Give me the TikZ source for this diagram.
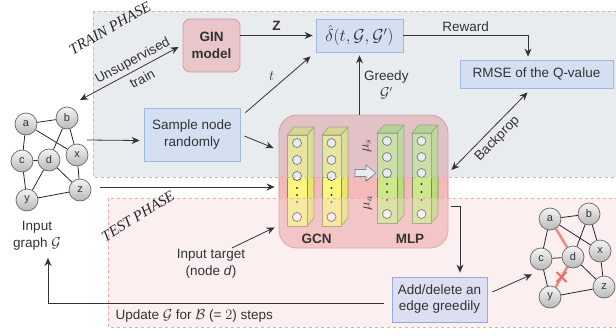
\documentclass[tikz,border=0pt]{standalone}
\usepackage{fontspec}
\setmainfont{Liberation Sans}
\newfontfamily\phasefont{Liberation Serif}
\usetikzlibrary{arrows.meta,calc}

\definecolor{txt}{HTML}{333333}
\definecolor{trainov}{RGB}{200,208,215}
\definecolor{testov}{RGB}{245,215,215}
\definecolor{trainbd}{HTML}{BBBBBB}
\definecolor{testbd}{HTML}{F0AAAA}
\definecolor{boxfill}{HTML}{F4B9BB}
\definecolor{boxbd}{HTML}{D8868B}
\definecolor{ginfill}{HTML}{E8C6C9}
\definecolor{ginbd}{HTML}{D69AA0}
\definecolor{bluefill}{HTML}{D4E0F1}
\definecolor{bluebd}{HTML}{9DB8E2}
\definecolor{addfill}{HTML}{DCDFF2}
\definecolor{addbd}{HTML}{97A8DA}
\definecolor{gcnf}{HTML}{FAF67E}
\definecolor{gcnr}{HTML}{E9E56E}
\definecolor{gcnt}{HTML}{DFDB68}
\definecolor{gcnb}{HTML}{8A8A5C}
\definecolor{mlpf}{HTML}{CCE88A}
\definecolor{mlpr}{HTML}{BADB78}
\definecolor{mlpt}{HTML}{B0D070}
\definecolor{mlpb}{HTML}{74905A}
\definecolor{redge}{HTML}{F08A8A}
\definecolor{redx}{HTML}{F06A6A}

\newcommand{\myfs}{\fontsize{13.5}{17}\selectfont}
\newcommand{\mylayer}[8]{%
  \filldraw[fill=#7,draw=#8,line width=0.7pt,line join=round] (#1,#2) -- ++(7,-8) -- ++(#3,0) -- ++(-7,8) -- cycle;
  \filldraw[fill=#6,draw=#8,line width=0.7pt,line join=round] (#1+#3,#2) -- ++(7,-8) -- ++(0,#4) -- ++(-7,8) -- cycle;
  \filldraw[fill=#5,draw=#8,line width=0.7pt,line join=round] (#1,#2) rectangle ++(#3,#4);
}

\tikzset{
  arr/.style={draw=txt, line width=0.8pt, -{Stealth[length=8pt,width=7pt]}},
  darr/.style={draw=txt, line width=0.8pt, {Stealth[length=8pt,width=7pt]}-{Stealth[length=8pt,width=7pt]}},
  bluebox/.style={draw=bluebd, fill=bluefill, line width=0.8pt, align=center, inner sep=0pt, text=txt},
  addbox/.style={draw=addbd, fill=addfill, line width=0.8pt, align=center, inner sep=0pt, text=txt},
  ginbox/.style={draw=ginbd, fill=ginfill, line width=0.8pt, rounded corners=7pt, align=center, inner sep=0pt, font=\bfseries\myfs, text=txt},
  gnode/.style={circle, minimum size=22pt, inner sep=0pt, draw=black!60, line width=0.7pt, top color=gray!8, bottom color=gray!55, font=\fontsize{11}{11}\selectfont, text=txt},
  gedge/.style={draw=black!85, line width=0.8pt},
  redline/.style={draw=redge, line width=2.6pt},
  xmark/.style={draw=redx, line width=1.8pt},
  neuron/.style={draw=black!75, fill=white, line width=0.7pt},
  phase/.style={font=\phasefont\itshape\fontsize{15}{15}\selectfont, text=black!85},
  regov/.style={fill opacity=0.4},
  regbd/.style={dash pattern=on 3pt off 3pt, line width=0.7pt},
}

\begin{document}
\begin{tikzpicture}[x=1pt,y=-1pt, font=\myfs, text=txt]
\useasboundingbox (0,0) rectangle (616,335);
\clip (0,0) rectangle (616,335);

% model box and layers
\node[draw=boxbd, fill=boxfill, line width=0.9pt, rounded corners=18pt, minimum width=169pt, minimum height=133pt, inner sep=0pt] (bigbox) at (363.5,181.5) {};

\mylayer{287}{135}{20}{91}{gcnf}{gcnr}{gcnt}{gcnb}
\mylayer{322}{135}{19}{91}{gcnf}{gcnr}{gcnt}{gcnb}
\mylayer{377}{133}{20}{90}{mlpf}{mlpr}{mlpt}{mlpb}
\mylayer{412}{133}{19}{90}{mlpf}{mlpr}{mlpt}{mlpb}

\foreach \cx in {297,331.5}{
  \foreach \yy in {143,160,176,217} \draw[neuron] (\cx,\yy) circle (4.5pt);
  \foreach \yy in {188,195,202} \fill[txt] (\cx,\yy) circle (1.1pt);
}
\foreach \cx in {387,421.5}{
  \foreach \yy in {141,157,173,214} \draw[neuron] (\cx,\yy) circle (4.5pt);
  \foreach \yy in {184,192,200} \fill[txt] (\cx,\yy) circle (1.1pt);
}

\filldraw[fill=white, draw=black!65, line width=0.7pt, line join=round]
  (355,169.5) -- (366,169.5) -- (366,165) -- (376,173) -- (366,181) -- (366,176.5) -- (355,176.5) -- cycle;

% phase regions (translucent, over the model box)
\fill[trainov, regov] (93,11) rectangle (630,177);
\fill[testov, regov] (108,198) rectangle (630,327);
\draw[trainbd, regbd] (93,11) rectangle (630,177);
\draw[testbd, regbd] (108,198) rectangle (630,327);

\node[phase, rotate=30] (trainlbl) at (110,28) {TRAIN PHASE};
\node[phase, rotate=32] (testlbl) at (138,216) {TEST PHASE};

\node[font=\bfseries\myfs] (gcnlbl) at (316.5,239) {GCN};
\node[font=\bfseries\myfs] (mlplbl) at (410,239) {MLP};
\node[rotate=90, font=\fontsize{14}{14}\selectfont] (mus) at (367,146) {$\mu_s$};
\node[rotate=90, font=\fontsize{14}{14}\selectfont] (mua) at (368,203) {$\mu_a$};

% boxes
\node[ginbox, minimum width=57pt, minimum height=53pt] (gin) at (211.5,45.5) {GIN\\model};
\node[bluebox, minimum width=87pt, minimum height=33pt, font=\fontsize{17}{17}\selectfont] (delta) at (359.5,35.5) {$\hat{\delta}(t,\mathcal{G},\mathcal{G}')$};
\node[bluebox, minimum width=153pt, minimum height=28pt] (rmse) at (536.5,74) {RMSE of the Q-value};
\node[bluebox, minimum width=96pt, minimum height=53pt] (sample) at (192,134.5) {Sample node\\randomly};
\node[addbox, minimum width=95pt, minimum height=45pt, font=\fontsize{13.5}{16}\selectfont] (add) at (439.5,299.5) {Add/delete an\\edge greedily};

% input graph
\foreach \n/\px/\py in {a/26/124, b/67/118, x/77/155, c/22/161, d/49/160, z/80/190, y/27/200}
  \node[gnode] (l\n) at (\px,\py) {\n};
\foreach \u/\v in {a/b, a/x, a/c, b/x, b/d, c/d, c/y, d/y, d/z, x/z, y/z}
  \draw[gedge] (l\u) -- (l\v);
\node[align=center] (glabel) at (37,236) {Input\\graph $\mathcal{G}$};

% output graph
\foreach \n/\px/\py in {a/550/219, b/589/214, x/600/251, c/541/259, d/573/257, z/604/287, y/550/297}
  \node[gnode] (r\n) at (\px,\py) {\n};
\foreach \u/\v in {a/b, a/x, a/c, b/x, b/d, c/d, c/y, d/z, x/z, y/z}
  \draw[gedge] (r\u) -- (r\v);
\draw[redline] (ra) -- (rd);
\draw[redline] (rd) -- (ry);
\coordinate (xm) at ($(rd)!0.5!(ry)$);
\draw[xmark] ($(xm)+(-5,-5)$) -- ($(xm)+(5,5)$);
\draw[xmark] ($(xm)+(-5,5)$) -- ($(xm)+(5,-5)$);

% free ends
\coordinate (gout) at (87,140);
\coordinate (gtop) at (80,100);
\coordinate (ginput) at (48,258);

% connectors
\draw[arr] (gin.east |- delta.west) -- ($(delta.west)+(-3,0)$) node[midway, above=1pt] {$\mathbf{Z}$};
\draw[arr] (delta.east) -| ($(rmse.north)+(-8.5,-3)$) node[pos=0.25, above] {Reward};
\draw[arr] ($(sample.north east)+(5,5)$) -- ($(delta.south west)+(-5,4)$) node[pos=0.5, above left=0pt] {$t$};
\draw[arr] ($(sample.east)+(4,1.5)$) -- ($(bigbox.west)+(-5,-33.5)$);
\draw[arr] ($(lz.east)+(9,-3)$) -- ($(bigbox.west)+(-4,5.5)$);
\draw[arr] (gout) -- ($(sample.west)+(-4,6)$);
\draw[darr] (gtop) -- ($(gin.west)+(-4,1.5)$) node[pos=0.58, sloped, align=center, font=\fontsize{13.5}{21}\selectfont] {Unsupervised\\train};
\draw[arr] (bigbox.north -| delta.south) -- ($(delta.south)+(0,3)$) node[midway, right=1pt, align=center] {Greedy\\$\mathcal{G}'$};
\draw[darr] ($(bigbox.east)+(3,-11.5)$) -- ($(rmse.south)+(-9,4)$) node[midway, sloped, below=1pt] {Backprop};

\node[align=center] (target) at (211,264) {Input target\\(node \textit{d})};
\draw[arr] ($(target.north)+(21,2)$) -- ($(bigbox.south west)+(-4,-21)$);

\draw[arr] ($(bigbox.east)+(3,24.5)$) -| ($(add.north)+(20.5,-4)$);
\draw[arr] ($(add.east)+(5,-7.5)$) -- ($(rc.south)+(-9,4)$);
\draw[arr] ($(add.west)+(-8,3.5)$) -| (ginput);
\node[anchor=west] (upd) at (112,316) {Update $\mathcal{G}$ for $\mathcal{B}$ (= $2$) steps};

\end{tikzpicture}
\end{document}
